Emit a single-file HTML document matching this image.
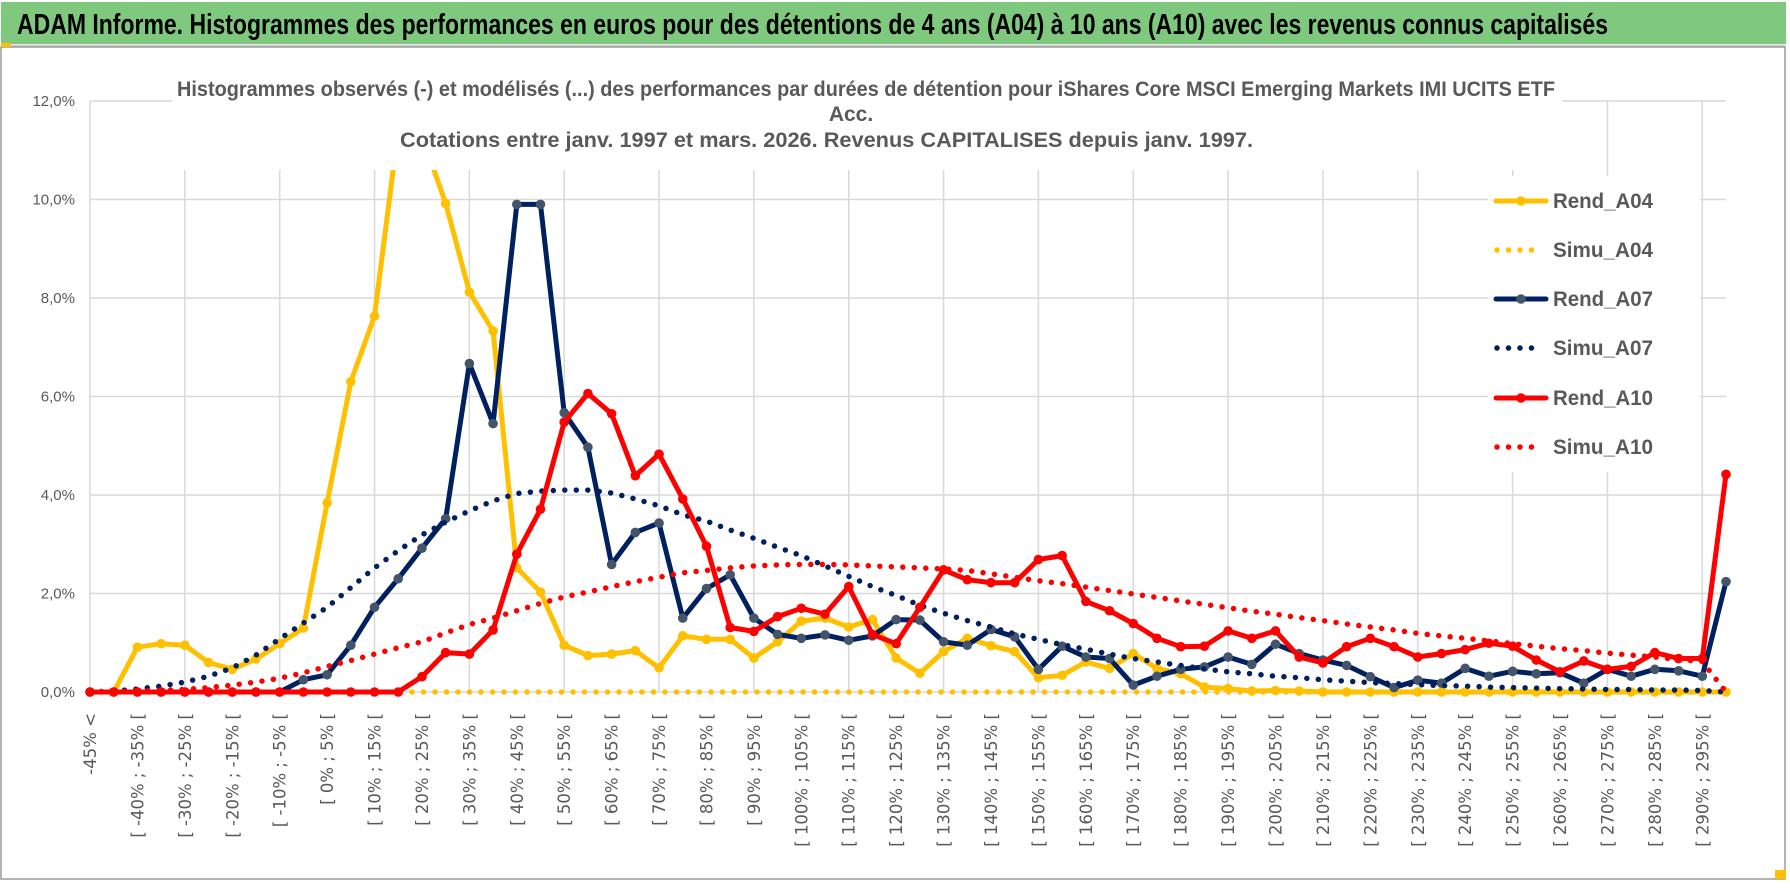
<!DOCTYPE html>
<html><head><meta charset="utf-8">
<style>
html,body{margin:0;padding:0;background:#fff;}
svg{display:block;}
</style></head>
<body>
<svg id="chart" width="1790" height="888" viewBox="0 0 1790 888" xmlns="http://www.w3.org/2000/svg">
  <rect x="0" y="0" width="1790" height="888" fill="#ffffff"/>
  <rect x="1" y="2" width="1785" height="42" fill="#7fc97e"/>
  <line x1="1" y1="46" x2="1785" y2="46" stroke="#d0d0d0" stroke-width="3"/>
  <rect x="1" y="47" width="1784" height="832" fill="none" stroke="#9a9a9a" stroke-width="1.5"/>
  <text x="17" y="34" font-family="Liberation Sans, sans-serif" font-weight="bold" font-size="29" fill="#000" textLength="1591" lengthAdjust="spacingAndGlyphs">ADAM Informe. Histogrammes des performances en euros pour des détentions de 4 ans (A04) à 10 ans (A10) avec les revenus connus capitalisés</text>
  <g id="grid"></g>
  <g id="series"></g>
  <rect x="172" y="56" width="1390" height="114" fill="#fff"/>
  <text x="177" y="96" font-family="Liberation Sans, sans-serif" font-weight="bold" font-size="21" fill="#595959" textLength="1378" lengthAdjust="spacingAndGlyphs">Histogrammes observés (-) et modélisés (...) des performances par durées de détention pour iShares Core MSCI Emerging Markets IMI UCITS ETF</text>
  <text x="851" y="121" text-anchor="middle" font-family="Liberation Sans, sans-serif" font-weight="bold" font-size="21" fill="#595959">Acc.</text>
  <text x="400" y="147" font-family="Liberation Sans, sans-serif" font-weight="bold" font-size="21" fill="#595959" textLength="853" lengthAdjust="spacingAndGlyphs">Cotations entre janv. 1997 et mars. 2026. Revenus CAPITALISES depuis janv. 1997.</text>
  <rect x="1488" y="176" width="212" height="296" fill="#fff"/>
  <g id="legend"></g>
  <g id="axes"></g>
  <rect x="1775" y="870" width="11" height="9" fill="#ffc000"/>
  <rect x="1" y="43" width="10" height="4" fill="#ffc000"/>
</svg>
<script>
const labelEvery = 2;
const yTicks = [0, 2, 4, 6, 8, 10, 12];
const yTickLabels = ["0,0%", "2,0%", "4,0%", "6,0%", "8,0%", "10,0%", "12,0%"];
const rendA04 = [0,0,0.91,0.98,0.95,0.6,0.46,0.67,0.98,1.3,3.84,6.3,7.63,11.4,11.3,9.92,8.12,7.33,2.52,2.03,0.95,0.74,0.77,0.84,0.49,1.14,1.07,1.07,0.69,1.02,1.44,1.5,1.32,1.47,0.69,0.38,0.82,1.09,0.94,0.82,0.29,0.34,0.61,0.48,0.78,0.48,0.37,0.1,0.07,0.02,0.03,0.02,0,0,0,0,0,0,0,0,0,0,0,0,0,0,0,0,0,0];
const simuA04 = [0,0,0,0,0,0,0,0,0,0,0,0,0,0,0,0,0,0,0,0,0,0,0,0,0,0,0,0,0,0,0,0,0,0,0,0,0,0,0,0,0,0,0,0,0,0,0,0,0,0,0,0,0,0,0,0,0,0,0,0,0,0,0,0,0,0,0,0,0,0];
const rendA07 = [0,0,0,0,0,0,0,0,0,0.25,0.35,0.95,1.72,2.3,2.92,3.52,6.67,5.45,9.9,9.9,5.67,4.97,2.59,3.24,3.43,1.5,2.1,2.38,1.5,1.17,1.09,1.16,1.05,1.14,1.47,1.46,1.02,0.95,1.27,1.12,0.46,0.93,0.71,0.68,0.14,0.32,0.46,0.51,0.71,0.56,0.97,0.78,0.65,0.54,0.31,0.09,0.24,0.18,0.48,0.32,0.42,0.37,0.39,0.18,0.46,0.32,0.46,0.43,0.32,2.24];
const simuA07 = [0,0.02,0.06,0.12,0.2,0.32,0.49,0.75,1.08,1.4,1.72,2.12,2.52,2.87,3.19,3.45,3.68,3.88,4.03,4.08,4.1,4.1,4.04,3.92,3.78,3.6,3.47,3.29,3.12,2.94,2.77,2.56,2.35,2.14,1.96,1.76,1.6,1.45,1.32,1.18,1.07,0.96,0.87,0.77,0.68,0.61,0.54,0.47,0.41,0.37,0.32,0.29,0.25,0.22,0.19,0.17,0.15,0.13,0.12,0.1,0.09,0.08,0.07,0.06,0.05,0.05,0.04,0.04,0.03,0];
const rendA10 = [0,0,0,0,0,0,0,0,0,0,0,0,0,0,0.31,0.8,0.77,1.26,2.8,3.71,5.48,6.06,5.65,4.39,4.83,3.92,2.96,1.31,1.23,1.53,1.7,1.58,2.14,1.17,0.98,1.72,2.48,2.28,2.22,2.22,2.69,2.77,1.84,1.65,1.39,1.09,0.92,0.93,1.24,1.09,1.24,0.71,0.59,0.92,1.09,0.92,0.71,0.78,0.86,0.99,0.93,0.65,0.41,0.63,0.46,0.52,0.8,0.68,0.68,4.42];
const simuA10 = [0,0.01,0.02,0.03,0.05,0.09,0.14,0.2,0.28,0.39,0.52,0.64,0.77,0.9,1.02,1.2,1.37,1.5,1.65,1.8,1.93,2.03,2.14,2.24,2.33,2.42,2.47,2.52,2.56,2.58,2.59,2.59,2.58,2.56,2.54,2.52,2.5,2.47,2.4,2.33,2.26,2.2,2.13,2.06,1.99,1.92,1.85,1.78,1.71,1.64,1.58,1.51,1.45,1.38,1.32,1.26,1.19,1.14,1.09,1.04,0.98,0.93,0.88,0.84,0.79,0.75,0.71,0.66,0.62,0];
const seriesNames = ["Rend_A04","Simu_A04","Rend_A07","Simu_A07","Rend_A10","Simu_A10"];

const categories = ["-45% <"];
for (let lo = -45; lo < 300; lo += 5) categories.push("[ " + lo + "% ; " + (lo + 5) + "% [");

const NS = "http://www.w3.org/2000/svg";
const X0 = 90, X1 = 1726, Y0 = 692, YTOP = 101, YMAX = 12;
function xPos(i){ return X0 + (X1 - X0) * i / (categories.length - 1); }
function yPos(v){ return Y0 - (Y0 - YTOP) * v / YMAX; }
function mk(tag, attrs, parent){ const e = document.createElementNS(NS, tag); for (const k in attrs) e.setAttribute(k, attrs[k]); parent.appendChild(e); return e; }

const grid = document.getElementById('grid');
const axes = document.getElementById('axes');
yTicks.forEach((t, k) => {
  const l = mk('line', {x1: X0, x2: X1, y1: yPos(t), y2: yPos(t), stroke: '#d9d9d9', 'stroke-width': 1.5}, grid);
  
  
  const tx = mk('text', {x: 75, y: yPos(t) + 5, 'text-anchor': 'end', 'font-family': 'Liberation Sans, sans-serif', 'font-size': 15, fill: '#595959'}, axes);
  tx.textContent = yTickLabels[k];
  
  
});
for (let i = 0; i < categories.length; i += 4) {
  const l = mk('line', {x1: xPos(i), x2: xPos(i), y1: YTOP, y2: Y0, stroke: '#d9d9d9', 'stroke-width': 1.5}, grid);
  
  
}
for (let i = 0; i < categories.length; i += labelEvery) {
  const x = xPos(i);
  const tx = mk('text', {x: 0, y: 0, 'text-anchor': 'end', 'font-family': 'DejaVu Sans, sans-serif', 'font-size': 16.5, fill: '#595959', transform: 'translate(' + (x + 6) + ',713) rotate(-90)'}, axes);
  tx.textContent = categories[i];
  
  
}

const seriesG = document.getElementById('series');
const defs = [
  {name: seriesNames[0], data: rendA04, color: '#ffc000', solid: true, marker: '#ffc000'},
  {name: seriesNames[1], data: simuA04, color: '#ffc000', solid: false},
  {name: seriesNames[2], data: rendA07, color: '#002060', solid: true, marker: '#44546a'},
  {name: seriesNames[3], data: simuA07, color: '#002060', solid: false},
  {name: seriesNames[4], data: rendA10, color: '#ff0000', solid: true, marker: '#ff0000'},
  {name: seriesNames[5], data: simuA10, color: '#ff0000', solid: false}
];
defs.forEach(s => {
  const g = mk('g', {}, seriesG);
  
  
  const pts = s.data.map((v, i) => xPos(i).toFixed(1) + ',' + yPos(v).toFixed(1)).join(' ');
  const attrs = {points: pts, fill: 'none', stroke: s.color, 'stroke-linejoin': 'round'};
  if (s.solid) { attrs['stroke-width'] = 5; }
  else { attrs['stroke-width'] = 5.5; attrs['stroke-dasharray'] = '0 11.5'; attrs['stroke-linecap'] = 'round'; }
  const pl = mk('polyline', attrs, g);
  
  
  if (s.solid) {
    s.data.forEach((v, i) => {
      const c = mk('circle', {cx: xPos(i), cy: yPos(v), r: 4.8, fill: s.marker}, g);
      
      
    });
  }
});

const legend = document.getElementById('legend');
const legY = [201, 250, 299, 348, 398, 447];
defs.forEach((s, k) => {
  const y = legY[k];
  const g = mk('g', {}, legend);
  
  
  if (s.solid) {
    mk('line', {x1: 1496, x2: 1546, y1: y, y2: y, stroke: s.color, 'stroke-width': 5, 'stroke-linecap': 'round'}, g);
    mk('circle', {cx: 1521, cy: y, r: 4.8, fill: s.marker}, g);
  } else {
    mk('line', {x1: 1497, x2: 1540, y1: y, y2: y, stroke: s.color, 'stroke-width': 5.5, 'stroke-dasharray': '0 11.5', 'stroke-linecap': 'round'}, g);
  }
  const t = mk('text', {x: 1553, y: y + 7, 'font-family': 'Liberation Sans, sans-serif', 'font-weight': 'bold', 'font-size': 21, fill: '#595959', textLength: 100, lengthAdjust: 'spacingAndGlyphs'}, g);
  t.textContent = s.name;
});
</script>
</body></html>
